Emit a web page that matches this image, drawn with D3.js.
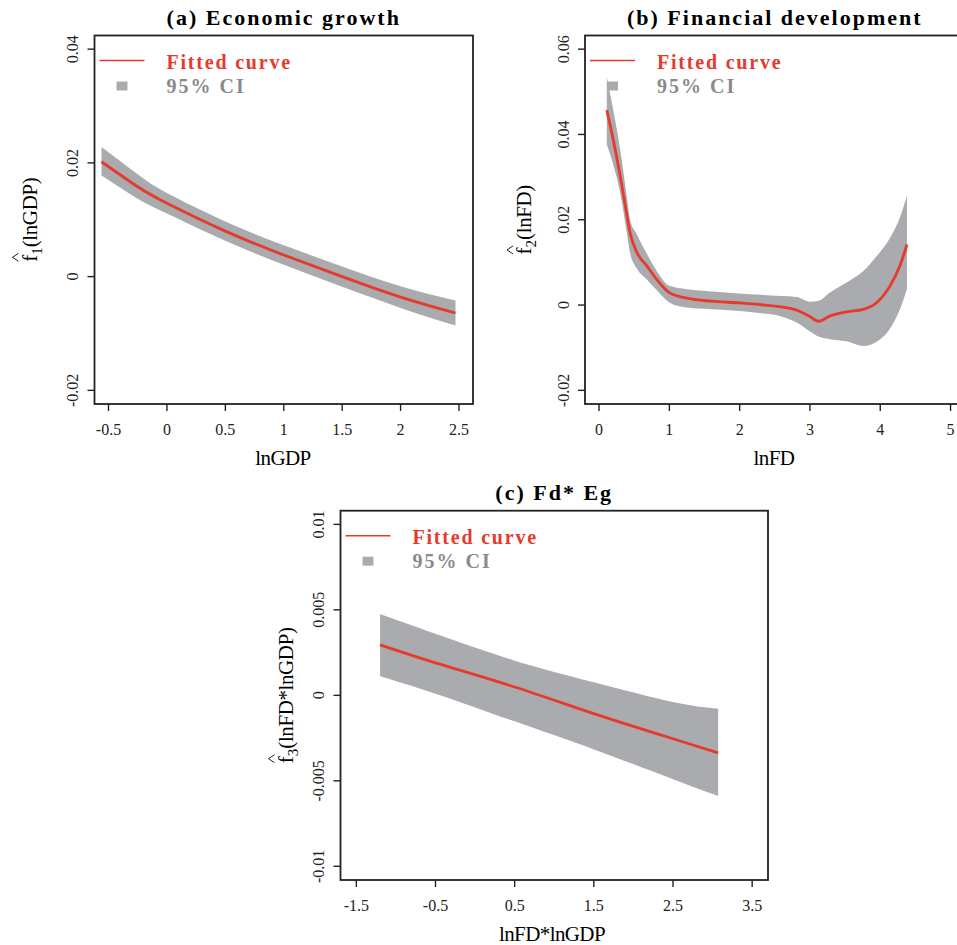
<!DOCTYPE html>
<html>
<head>
<meta charset="utf-8">
<script src="https://cdn.jsdelivr.net/npm/d3@7"></script>
<style>
  body { margin: 0; background: #fff; }
  svg { display: block; }
</style>
</head>
<body>
<div id="chart"></div>
<script>
// panel (a) economic growth
const aX   = [-0.56, -0.25, 0, 0.5, 1, 1.5, 2, 2.47];
const aFit = [0.0202, 0.0158, 0.0129, 0.0080, 0.0038, 0.0000, -0.0036, -0.0064];
const aHi  = [0.0228, 0.0180, 0.0147, 0.0097, 0.0055, 0.0018, -0.0017, -0.0042];
const aLo  = [0.0178, 0.0137, 0.0111, 0.0063, 0.0021, -0.0018, -0.0055, -0.0086];
const aXTicks = [-0.5, 0, 0.5, 1, 1.5, 2, 2.5];
const aXLabels = ["-0.5", "0", "0.5", "1", "1.5", "2", "2.5"];
const aYTicks = [-0.02, 0, 0.02, 0.04];
const aYLabels = ["-0.02", "0", "0.02", "0.04"];

// panel (b) financial development
const bX   = [0.11, 0.2, 0.3, 0.39, 0.44, 0.54, 0.68, 0.82, 1.0, 1.25, 1.6, 2.0, 2.3, 2.58, 2.81, 3.0, 3.12, 3.28, 3.52, 3.76, 3.95, 4.14, 4.28, 4.38];
const bFit = [0.0457, 0.0389, 0.0303, 0.0217, 0.0170, 0.0123, 0.0092, 0.0060, 0.0029, 0.0016, 0.0009, 0.0005, 0.0001, -0.0004, -0.0012, -0.0027, -0.0038, -0.0026, -0.0016, -0.0010, 0.0006, 0.0045, 0.0092, 0.0142];
const bHi  = [0.0534, 0.0459, 0.0365, 0.0260, 0.0201, 0.0165, 0.0120, 0.0080, 0.0045, 0.0037, 0.0032, 0.0027, 0.0024, 0.0021, 0.0019, 0.0008, 0.0010, 0.0029, 0.0053, 0.0080, 0.0115, 0.0158, 0.0205, 0.0256];
const bLo  = [0.0377, 0.0330, 0.0264, 0.0175, 0.0123, 0.0085, 0.0060, 0.0035, 0.0006, -0.0006, -0.0010, -0.0014, -0.0019, -0.0026, -0.0041, -0.0062, -0.0074, -0.0080, -0.0085, -0.0096, -0.0086, -0.0055, -0.0010, 0.0037];
const bXTicks = [0, 1, 2, 3, 4, 5];
const bXLabels = ["0", "1", "2", "3", "4", "5"];
const bYTicks = [-0.02, 0, 0.02, 0.04, 0.06];
const bYLabels = ["-0.02", "0", "0.02", "0.04", "0.06"];

// panel (c) interaction
const cX   = [-1.2, -0.5, 0.5, 1.5, 2.5, 3.07];
const cFit = [0.00295, 0.0019, 0.00049, -0.00107, -0.00254, -0.00336];
const cHi  = [0.00476, 0.0036, 0.00203, 0.00077, -0.00039, -0.00078];
const cLo  = [0.00112, 0.0001, -0.00152, -0.00316, -0.00490, -0.00588];
const cXTicks = [-1.5, -0.5, 0.5, 1.5, 2.5, 3.5];
const cXLabels = ["-1.5", "-0.5", "0.5", "1.5", "2.5", "3.5"];
const cYTicks = [-0.01, -0.005, 0, 0.005, 0.01];
const cYLabels = ["-0.01", "-0.005", "0", "0.005", "0.01"];

const W = 957, H = 945;
const serif = '"Liberation Serif", "Times New Roman", serif';
const red = "#e53a2c";
const bandGrey = "#a9abae";

const svg = d3.select("#chart").append("svg")
    .attr("width", W)
    .attr("height", H);

const drawPanel = (p) => {
    const x = d3.scaleLinear().domain(p.xDomain).range([p.left, p.right]);
    const y = d3.scaleLinear().domain(p.yDomain).range([p.bottom, p.top]);
    const g = svg.append("g");
    const rows = p.xs.map((v, i) => ({ x: v, fit: p.fit[i], lo: p.lo[i], hi: p.hi[i] }));

    // CI band
    g.append("path")
        .datum(rows)
        .attr("fill", bandGrey)
        .attr("d", d3.area()
            .x(d => x(d.x))
            .y0(d => y(d.lo))
            .y1(d => y(d.hi))
            .curve(p.curve));

    // fitted curve
    g.append("path")
        .datum(rows)
        .attr("fill", "none")
        .attr("stroke", red)
        .attr("stroke-width", 2.8)
        .attr("d", d3.line()
            .x(d => x(d.x))
            .y(d => y(d.fit))
            .curve(p.curve));

    // box
    g.append("rect")
        .attr("x", p.left)
        .attr("y", p.top)
        .attr("width", p.right - p.left)
        .attr("height", p.bottom - p.top)
        .attr("fill", "none")
        .attr("stroke", "#222")
        .attr("stroke-width", 1.8);

    // x axis ticks
    p.xTicks.forEach((t, i) => {
        g.append("line")
            .attr("x1", x(t)).attr("x2", x(t))
            .attr("y1", p.bottom).attr("y2", p.bottom + 7)
            .attr("stroke", "#222").attr("stroke-width", 1.4);
        g.append("text")
            .attr("x", x(t))
            .attr("y", p.bottom + 31)
            .attr("text-anchor", "middle")
            .style("font-family", serif)
            .style("font-size", "16px")
            .style("fill", "#222")
            .text(p.xLabels[i]);
    });

    // y axis ticks
    p.yTicks.forEach((t, i) => {
        g.append("line")
            .attr("x1", p.left - 7).attr("x2", p.left)
            .attr("y1", y(t)).attr("y2", y(t))
            .attr("stroke", "#222").attr("stroke-width", 1.4);
        g.append("text")
            .attr("transform", `translate(${p.left - 16.5}, ${y(t)}) rotate(-90)`)
            .attr("text-anchor", "middle")
            .style("font-family", serif)
            .style("font-size", "16px")
            .style("fill", "#222")
            .text(p.yLabels[i]);
    });

    // title
    g.append("text")
        .attr("x", (p.left + Math.min(p.right, 965)) / 2)
        .attr("y", p.top - 10.5)
        .attr("text-anchor", "middle")
        .style("font-family", serif)
        .style("font-size", "22px")
        .style("font-weight", "bold")
        .style("letter-spacing", "2px")
        .text(p.title);

    // x title
    g.append("text")
        .attr("x", p.xTitleX)
        .attr("y", p.bottom + 61)
        .attr("text-anchor", "middle")
        .style("font-family", serif)
        .style("font-size", "21px")
        .style("letter-spacing", "-0.6px")
        .text(p.xTitle);

    // y title: f-hat with subscript
    const yt = g.append("g")
        .attr("transform", `translate(${p.left - p.yTitleOff}, ${(p.top + p.bottom) / 2}) rotate(-90)`);
    const txt = yt.append("text")
        .style("font-family", serif)
        .style("font-size", "21px");
    const fSpan = txt.append("tspan").text("f");
    txt.append("tspan").attr("dy", 5).style("font-size", "15px").text(p.sub);
    txt.append("tspan").attr("dy", -5).style("letter-spacing", "-0.4px").text(p.yArg);
    const len = txt.node().getComputedTextLength();
    const fw = fSpan.node().getComputedTextLength();
    txt.attr("x", -len / 2);
    const fx = -len / 2 + fw / 2 + 1;
    yt.append("path")
        .attr("d", `M${fx - 4},-18 L${fx},-24 L${fx + 4},-18`)
        .attr("fill", "none")
        .attr("stroke", "#222")
        .attr("stroke-width", 1);

    // legend
    g.append("line")
        .attr("x1", p.left + 5).attr("x2", p.left + 50)
        .attr("y1", p.top + 25).attr("y2", p.top + 25)
        .attr("stroke", red).attr("stroke-width", 1.6);
    g.append("text")
        .attr("x", p.left + 72)
        .attr("y", p.top + 33)
        .style("font-family", serif)
        .style("font-size", "20px")
        .style("font-weight", "bold")
        .style("letter-spacing", "1.8px")
        .style("fill", red)
        .text("Fitted curve");
    g.append("rect")
        .attr("x", p.left + 22)
        .attr("y", p.top + 46)
        .attr("width", 11)
        .attr("height", 9)
        .attr("fill", bandGrey);
    g.append("text")
        .attr("x", p.left + 72)
        .attr("y", p.top + 57.5)
        .style("font-family", serif)
        .style("font-size", "20px")
        .style("font-weight", "bold")
        .style("letter-spacing", "2px")
        .style("fill", "#8a8a8a")
        .text("95% CI");
};

drawPanel({
    title: "(a) Economic growth",
    left: 94.5, right: 473, top: 35.5, bottom: 404,
    xDomain: [-0.62, 2.62], yDomain: [-0.0224, 0.0424],
    xs: aX, fit: aFit, lo: aLo, hi: aHi, curve: d3.curveNatural,
    xTicks: aXTicks, xLabels: aXLabels, yTicks: aYTicks, yLabels: aYLabels,
    xTitle: "lnGDP", xTitleX: 283, sub: "1", yArg: "(lnGDP)", yTitleOff: 58
});

drawPanel({
    title: "(b) Financial development",
    left: 585, right: 964.6, top: 35.5, bottom: 404,
    xDomain: [-0.2, 5.2], yDomain: [-0.0232, 0.0632],
    xs: bX, fit: bFit, lo: bLo, hi: bHi, curve: d3.curveMonotoneX,
    xTicks: bXTicks, xLabels: bXLabels, yTicks: bYTicks, yLabels: bYLabels,
    xTitle: "lnFD", xTitleX: 774, sub: "2", yArg: "(lnFD)", yTitleOff: 54
});

drawPanel({
    title: "(c) Fd* Eg",
    left: 340.5, right: 768, top: 510.7, bottom: 880,
    xDomain: [-1.7, 3.7], yDomain: [-0.0108, 0.0108],
    xs: cX, fit: cFit, lo: cLo, hi: cHi, curve: d3.curveNatural,
    xTicks: cXTicks, xLabels: cXLabels, yTicks: cYTicks, yLabels: cYLabels,
    xTitle: "lnFD*lnGDP", xTitleX: 552, sub: "3", yArg: "(lnFD*lnGDP)", yTitleOff: 48
});
</script>
</body>
</html>
